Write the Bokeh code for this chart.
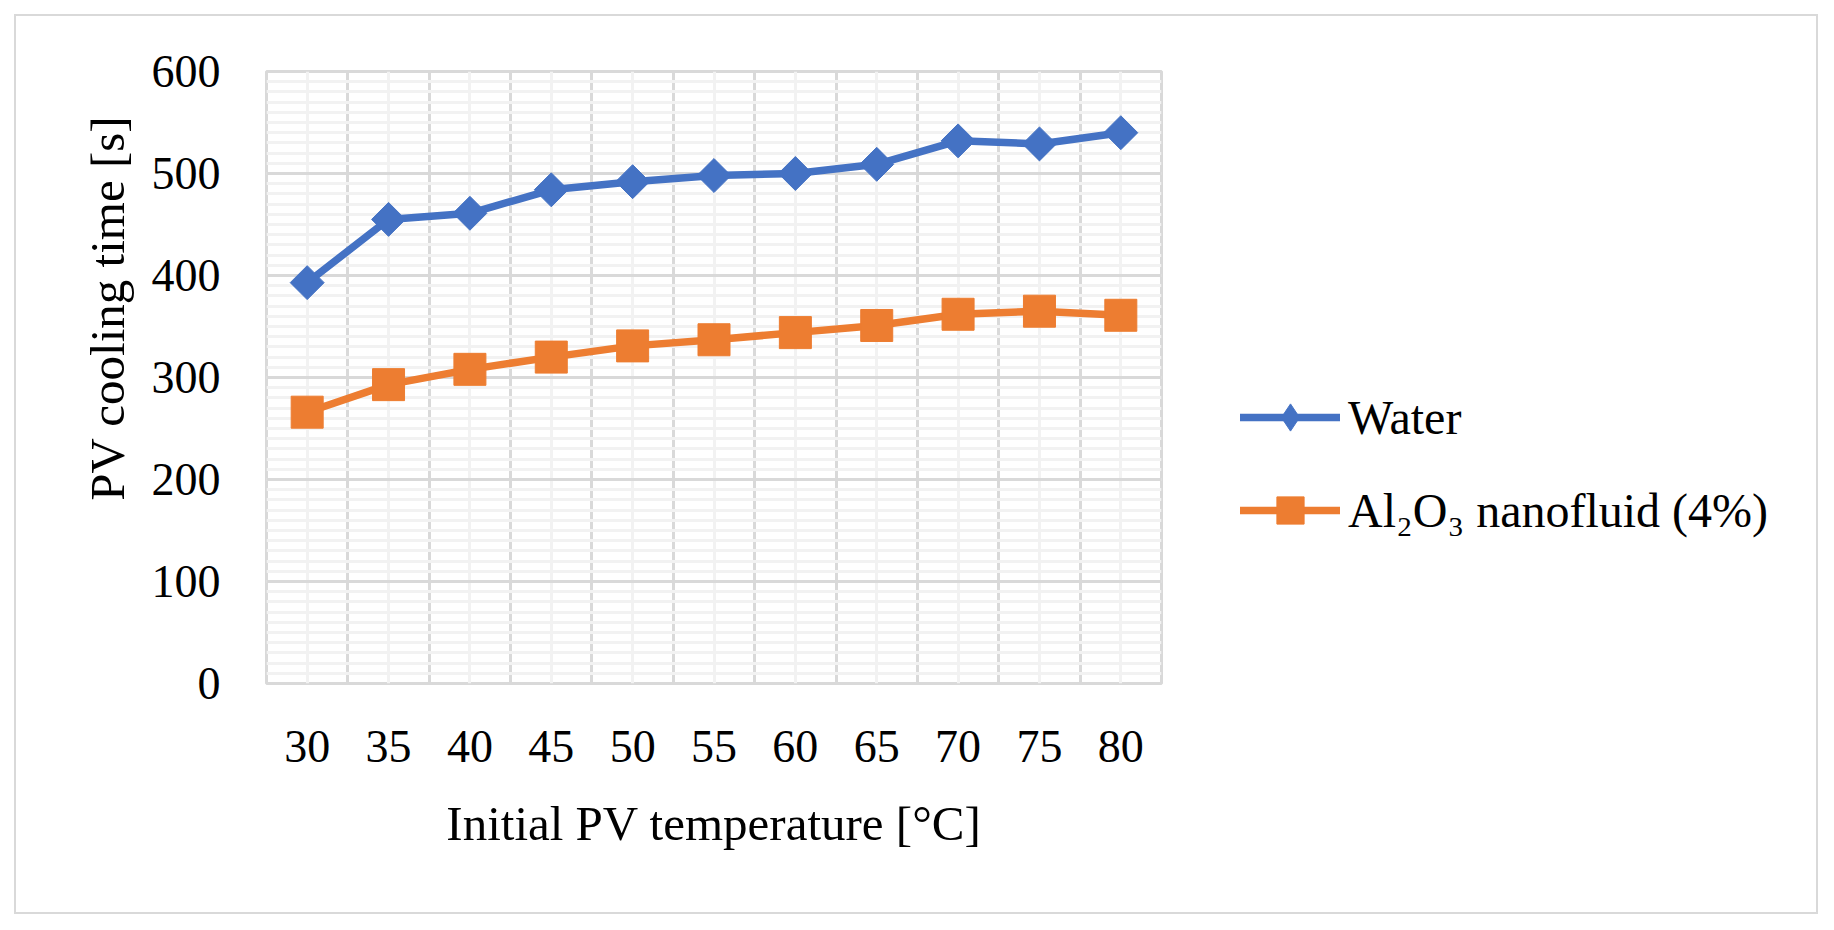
import math
from bokeh.plotting import figure
from bokeh.layouts import row
from bokeh.models import (FixedTicker, Legend, LegendItem, Title, Range1d)
from bokeh.embed import file_html
from bokeh.resources import INLINE

# ---- data ----
temperatures = [30, 35, 40, 45, 50, 55, 60, 65, 70, 75, 80]
water = [393, 455, 461, 484, 492, 498, 500, 509, 532, 529, 540]
al2o3 = [266, 293, 308, 320, 331, 337, 344, 351, 362, 365, 361]
y_ticks = [0, 100, 200, 300, 400, 500, 600]
series_names = ["Water", "Al\u2082O\u2083 nanofluid (4%)"]
x_title = "Initial PV temperature [\u00b0C]"
y_title = "PV cooling time [s]"

BLUE = "#4472C4"
ORANGE = "#ED7D31"
MAJOR = "#d9d9d9"
MINOR = "#f2f2f2"
FONT = "Liberation Serif"

H = 896
WA = 1165
FL, FR, FT, FB = 250, 1145, 55, 667   # frame edges in canvas px

# ---------------- main chart ----------------
p = figure(width=WA, height=H, output_backend="svg", toolbar_location=None,
           x_range=Range1d(27.5, 82.5), y_range=Range1d(0, 600),
           min_border_left=FL, min_border_right=WA - FR,
           min_border_top=FT, min_border_bottom=H - FB)
p.background_fill_color = "white"
p.border_fill_color = "white"
p.outline_line_color = MAJOR
p.outline_line_width = 3

half = [t - 2.5 for t in temperatures] + [temperatures[-1] + 2.5]
p.xgrid.ticker = FixedTicker(ticks=half, minor_ticks=temperatures)
p.xgrid.grid_line_color = MAJOR
p.xgrid.grid_line_width = 3
p.xgrid.minor_grid_line_color = MINOR
p.xgrid.minor_grid_line_width = 3

p.ygrid.ticker = FixedTicker(ticks=y_ticks, minor_ticks=list(range(0, 601, 10)))
p.ygrid.grid_line_color = MAJOR
p.ygrid.grid_line_width = 3
p.ygrid.minor_grid_line_color = MINOR
p.ygrid.minor_grid_line_width = 3

for ax in (p.xaxis, p.yaxis):
    ax.axis_line_color = None
    ax.major_tick_line_color = None
    ax.minor_tick_line_color = None
    ax.major_tick_out = 0
    ax.minor_tick_out = 0
    ax.major_label_text_font = FONT
    ax.major_label_text_font_size = "46px"
    ax.major_label_text_color = "black"

p.xaxis.ticker = FixedTicker(ticks=temperatures)
p.xaxis.major_label_standoff = 47
p.xaxis.axis_label = x_title
p.xaxis.axis_label_text_font = FONT
p.xaxis.axis_label_text_font_size = "49px"
p.xaxis.axis_label_text_font_style = "normal"
p.xaxis.axis_label_text_color = "black"
p.xaxis.axis_label_standoff = 31

p.yaxis.ticker = FixedTicker(ticks=y_ticks)
p.yaxis.major_label_standoff = 46

p.add_layout(Title(text=y_title, align="right", offset=44, standoff=28,
                   text_font=FONT, text_font_size="49px",
                   text_font_style="normal", text_color="black"), "left")

p.line(temperatures, water, line_color=BLUE, line_width=7.5,
       line_join="round", line_cap="round")
p.scatter(temperatures, water, marker="square", angle=math.pi / 4,
          size=24, fill_color=BLUE, line_color=BLUE)
p.line(temperatures, al2o3, line_color=ORANGE, line_width=7.5,
       line_join="round", line_cap="round")
p.scatter(temperatures, al2o3, marker="square", size=32,
          fill_color=ORANGE, line_color=ORANGE)

# ---------------- legend panel ----------------
WB = 1800 - WA
q = figure(width=WB, height=H, output_backend="svg", toolbar_location=None,
           x_range=Range1d(0, 1), y_range=Range1d(0, 1),
           x_axis_location=None, y_axis_location=None,
           min_border=0, min_border_left=0, min_border_right=0,
           min_border_top=0, min_border_bottom=0)
q.grid.visible = False
q.outline_line_color = None
q.background_fill_color = "white"
q.border_fill_color = "white"
# same series (they fall outside this panel's ranges); used for the legend keys
ql1 = q.line(temperatures, water, line_color=BLUE, line_width=7.5,
             line_join="round", line_cap="round")
qm1 = q.scatter(temperatures, water, marker="diamond", size=24,
                fill_color=BLUE, line_color=BLUE)
ql2 = q.line(temperatures, al2o3, line_color=ORANGE, line_width=7.5,
             line_join="round", line_cap="round")
qm2 = q.scatter(temperatures, al2o3, marker="square", size=32,
                fill_color=ORANGE, line_color=ORANGE)

legend = Legend(items=[LegendItem(label=series_names[0], renderers=[ql1, qm1]),
                       LegendItem(label=series_names[1], renderers=[ql2, qm2])],
                location=(59, 139), orientation="vertical",
                glyph_width=100, glyph_height=68, label_height=46,
                spacing=25, padding=0, margin=0, label_standoff=8,
                label_text_font=FONT, label_text_font_size="48px",
                label_text_color="black", border_line_color=None,
                background_fill_alpha=0)
q.add_layout(legend, "center")

layout = row(p, q, spacing=0)
layout.styles = {"transform": "translate(16px, 16px)",
                 "outline": "2px solid #d9d9d9"}

open("out.html", "w").write(file_html(layout, INLINE))
